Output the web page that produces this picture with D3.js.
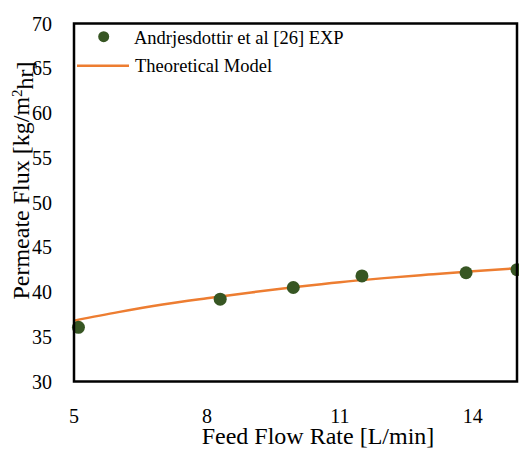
<!DOCTYPE html>
<html>
<head>
<meta charset="utf-8">
<script src="https://cdn.jsdelivr.net/npm/d3@7"></script>
<style>
  body { margin: 0; background: #fff; }
  svg text { font-family: "Liberation Serif", "Times New Roman", serif; fill: #000; }
</style>
</head>
<body>
<div id="chart"></div>
<script>
// experimental points (Andrjesdottir et al [26])
const expFlow = [5.1, 8.3, 9.95, 11.5, 13.85, 15.0];
const expFlux = [36.05, 39.2, 40.5, 41.8, 42.15, 42.5];

// theoretical model curve
const modelFlow = [5, 6, 7, 8, 9, 10, 11, 12, 13, 14, 15];
const modelFlux = [36.8, 37.75, 38.6, 39.3, 39.95, 40.55, 41.1, 41.55, 41.95, 42.33, 42.65];

const xTicks = [5, 8, 11, 14];
const yTicks = [30, 35, 40, 45, 50, 55, 60, 65, 70];

const width = 519;
const height = 450;
const margin = {top: 23.5, right: 2, bottom: 68.5, left: 74};
const serif = '"Liberation Serif", "Times New Roman", serif';

const svg = d3.select("#chart").append("svg")
    .attr("width", width)
    .attr("height", height)
    .attr("font-family", serif);

const x = d3.scaleLinear().domain([5, 15]).range([margin.left, width - margin.right]);
const y = d3.scaleLinear().domain([30, 70]).range([height - margin.bottom, margin.top]);

// y tick labels
svg.append("g")
    .selectAll("text")
    .data(yTicks)
    .enter()
    .append("text")
    .attr("x", margin.left - 22)
    .attr("y", d => y(d))
    .attr("dy", "0.35em")
    .attr("text-anchor", "end")
    .style("font-size", "20px")
    .text(d => d);

// x tick labels
svg.append("g")
    .selectAll("text")
    .data(xTicks)
    .enter()
    .append("text")
    .attr("x", d => x(d))
    .attr("y", 423)
    .attr("text-anchor", "middle")
    .style("font-size", "20px")
    .text(d => d);

// axis titles
svg.append("text")
    .attr("x", 318)
    .attr("y", 444)
    .attr("text-anchor", "middle")
    .style("font-size", "24px")
    .text("Feed Flow Rate [L/min]");

const yTitle = svg.append("text")
    .attr("transform", "translate(29,180.5) rotate(-90)")
    .attr("text-anchor", "middle")
    .style("font-size", "24px");
yTitle.append("tspan").text("Permeate Flux [kg/m");
yTitle.append("tspan").attr("dy", "-0.45em").style("font-size", "15px").text("2");
yTitle.append("tspan").attr("dy", "0.45em").text("hr]");

// model line
const line = d3.line()
    .x(d => x(d[0]))
    .y(d => y(d[1]))
    .curve(d3.curveMonotoneX);

svg.append("path")
    .datum(d3.zip(modelFlow, modelFlux))
    .attr("fill", "none")
    .attr("stroke", "#ED7D31")
    .attr("stroke-width", 2.5)
    .attr("d", line);

// experimental markers
svg.append("g")
    .selectAll("circle")
    .data(d3.zip(expFlow, expFlux))
    .enter()
    .append("circle")
    .attr("cx", d => x(d[0]))
    .attr("cy", d => y(d[1]))
    .attr("r", 6.5)
    .attr("fill", "#375623");

// plot frame
svg.append("rect")
    .attr("x", x(5))
    .attr("y", y(70))
    .attr("width", x(15) - x(5))
    .attr("height", y(30) - y(70))
    .attr("fill", "none")
    .attr("stroke", "#000")
    .attr("stroke-width", 2.5);

// legend
const legend = svg.append("g");
legend.append("circle")
    .attr("cx", 103.7)
    .attr("cy", 36.7)
    .attr("r", 5.5)
    .attr("fill", "#375623");
legend.append("text")
    .attr("x", 134)
    .attr("y", 44)
    .style("font-size", "18.5px")
    .text("Andrjesdottir et al [26] EXP");
legend.append("line")
    .attr("x1", 77)
    .attr("x2", 129)
    .attr("y1", 65.7)
    .attr("y2", 65.7)
    .attr("stroke", "#ED7D31")
    .attr("stroke-width", 2.5);
legend.append("text")
    .attr("x", 135)
    .attr("y", 71.7)
    .style("font-size", "18.5px")
    .text("Theoretical Model");
</script>
</body>
</html>
